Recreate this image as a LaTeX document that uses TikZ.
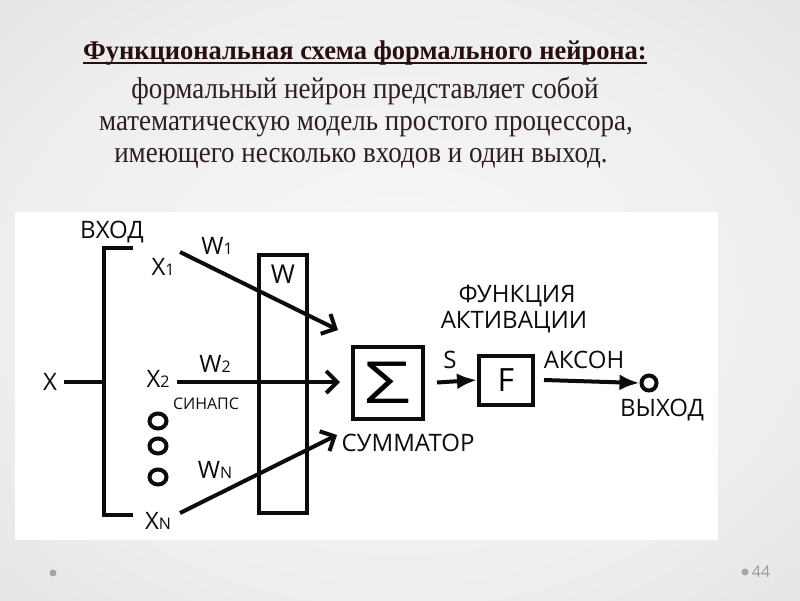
\documentclass[tikz,border=0pt]{standalone}
\usepackage{fontspec}
\setmainfont{Liberation Serif}
\newfontfamily\labfont{Open Sans}
\usetikzlibrary{arrows.meta,shapes.geometric}
\definecolor{ttl}{RGB}{40,14,14}
\definecolor{bodyc}{RGB}{45,30,30}
\definecolor{ink}{RGB}{12,12,12}
\definecolor{bgA}{RGB}{248,248,248}
\definecolor{bgB}{RGB}{238,238,238}
\definecolor{bgC}{RGB}{218,218,218}
\definecolor{bgD}{RGB}{198,198,198}
\pgfdeclareradialshading{slidebg}{\pgfpoint{0bp}{0bp}}{color(0bp)=(bgA); color(25bp)=(bgB); color(50bp)=(bgC); color(71bp)=(bgD)}
\newcommand{\subsz}[1]{{\fontsize{16}{16}\selectfont #1}}
\begin{document}
\begin{tikzpicture}[x=1pt,y=-1pt,
  lab/.style={font=\labfont\fontsize{24}{26}\selectfont, text=ink, inner sep=0pt},
  ln/.style={line width=4pt, draw=ink},
  boxst/.style={ln, rectangle, inner sep=0pt, fill=white},
  vhead/.style={ln, -{Straight Barb[length=11pt,width=22pt]}},
  fhead/.style={ln, -{Latex[length=20pt,width=16pt]}},
  dotst/.style={ln, ellipse, minimum width=17pt, minimum height=15pt, inner sep=0pt}]
\useasboundingbox (0,0) rectangle (800,600);
\shade[shading=slidebg] (0,0) rectangle (800,600);
% title and text
\node[anchor=base, font=\bfseries\fontsize{27}{27}\selectfont, text=ttl, inner sep=0pt] (title) at (365,59)
  {\scalebox{0.98}[1]{Функциональная схема формального нейрона:}};
\draw[ttl, line width=2pt] ([yshift=-3.5pt]title.base west) -- ([yshift=-3.5pt]title.base east);
\node[anchor=base, font=\fontsize{30}{30}\selectfont, text=bodyc, inner sep=0pt] (l1) at (365,98)
  {\scalebox{0.90}[1]{формальный нейрон представляет собой}};
\node[anchor=base, font=\fontsize{30}{30}\selectfont, text=bodyc, inner sep=0pt] (l2) at (366,130)
  {\scalebox{0.90}[1]{математическую модель простого процессора,}};
\node[anchor=base, font=\fontsize{30}{30}\selectfont, text=bodyc, inner sep=0pt] (l3) at (361,162)
  {\scalebox{0.90}[1]{имеющего несколько входов и один выход.}};
% diagram panel
\fill[white] (15,212) rectangle (718,540);
% bracket
\node[lab] (vhod) at (112,232) {ВХОД};
\coordinate (bTR) at (133,248);
\coordinate (bTL) at (104,248);
\coordinate (bBL) at (104,515);
\coordinate (bBR) at (133,515);
\coordinate (bMid) at (104,382);
\draw[ln] (bTR) -- (bTL) -- (bBL) -- (bBR);
\node[lab] (X) at (50,382) {X};
\draw[ln] ([xshift=7pt]X.east) -- (bMid);
% inputs
\node[lab] (x1) at (163,267) {X\subsz{1}};
\node[lab] (x2) at (158,379) {X\subsz{2}};
\node[lab] (xn) at (158,521) {X\subsz{N}};
\node[dotst] (d1) at (158,421) {};
\node[dotst] (d2) at (158,446) {};
\node[dotst] (d3) at (158,477) {};
% weights box
\node[ln, rectangle, inner sep=0pt, minimum width=48pt, minimum height=258pt] (wbox) at (283,384) {};
\node[lab, font=\labfont\fontsize{26}{26}\selectfont] (wlab) at (283,274) {W};
\node[lab] (w1) at (217,246) {W\subsz{1}};
\node[lab] (w2) at (215,364) {W\subsz{2}};
\node[lab] (wn) at (215,470) {W\subsz{N}};
\node[lab, font=\labfont\fontsize{16}{16}\selectfont] (sinaps) at (206,404) {СИНАПС};
% summator
\node[boxst, minimum width=70pt, minimum height=72pt] (sig) at (388,382.5)
  {\fontsize{58}{58}\selectfont\labfont\raisebox{-2pt}{\scalebox{1.4}[1]{Σ}}};
\node[lab] (summ) at (408,443) {СУММАТОР};
% arrows from inputs
\coordinate (a1s) at (180,252);
\coordinate (a1e) at (338,330);
\coordinate (a2s) at (177,382);
\coordinate (a2e) at (340,382);
\coordinate (ans) at (180,513);
\coordinate (ane) at (337,435);
\draw[vhead] (a1s) -- (a1e);
\draw[vhead] (a2s) -- (a2e);
\draw[vhead] (ans) -- (ane);
% activation
\node[boxst, minimum width=54pt, minimum height=49pt] (fbox) at (506,380)
  {\labfont\fontsize{32}{32}\selectfont F};
\node[lab] (s) at (450,360) {S};
\draw[fhead] ([xshift=12pt]sig.east) -- (fbox.west);
\node[lab] (fun1) at (517,296) {ФУНКЦИЯ};
\node[lab] (fun2) at (514,322) {АКТИВАЦИИ};
% output
\node[ln, circle, minimum size=15pt, inner sep=0pt] (out) at (649,383) {};
\node[lab] (akson) at (584,360) {АКСОН};
\node[lab] (vyhod) at (662,410) {ВЫХОД};
\draw[fhead] ([xshift=9pt]fbox.east) -- (out.west);
% footer
\fill[gray!70] (53,573) circle (3.5);
\fill[gray!70] (745,572) circle (3.5);
\node[font=\labfont\fontsize{16}{16}\selectfont, text=gray!80, inner sep=0pt] (pg) at (761,572) {44};
\end{tikzpicture}
\end{document}
